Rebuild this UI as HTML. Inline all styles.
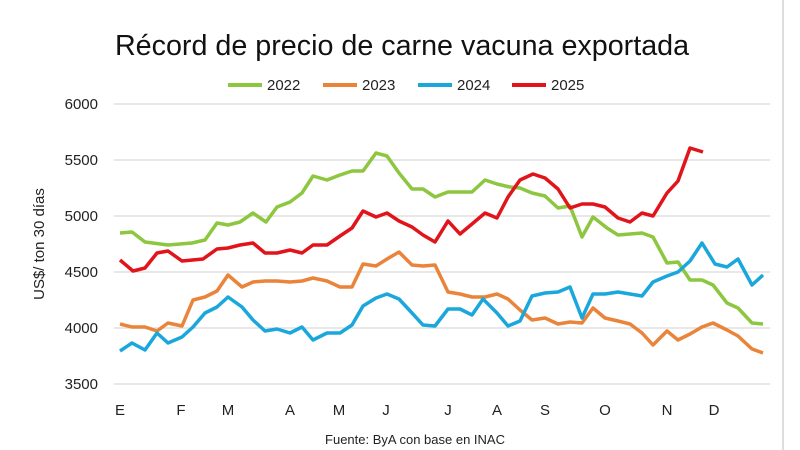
<!DOCTYPE html>
<html><head><meta charset="utf-8"><style>
body{margin:0;background:#fff;}
svg{display:block;font-family:"Liberation Sans",sans-serif;}
</style></head><body>
<svg width="800" height="450" viewBox="0 0 800 450">
<rect width="800" height="450" fill="#fff"/>
<line x1="783" y1="0" x2="783" y2="450" stroke="#bbb" stroke-width="1"/>
<text x="402" y="55" font-size="28.7" text-anchor="middle" fill="#111">Récord de precio de carne vacuna exportada</text>
<g font-size="15" fill="#222">
<line x1="228" y1="85" x2="262" y2="85" stroke="#8dc63f" stroke-width="4"/><text x="267" y="90">2022</text>
<line x1="323" y1="85" x2="357" y2="85" stroke="#e9843a" stroke-width="4"/><text x="362" y="90">2023</text>
<line x1="418" y1="85" x2="452" y2="85" stroke="#1aa7dc" stroke-width="4"/><text x="457" y="90">2024</text>
<line x1="512" y1="85" x2="546" y2="85" stroke="#e2141b" stroke-width="4"/><text x="551" y="90">2025</text>
</g>
<g stroke="#d9d9d9" stroke-width="1.2">
<line x1="114" y1="104" x2="770" y2="104"/><line x1="114" y1="160" x2="770" y2="160"/>
<line x1="114" y1="216" x2="770" y2="216"/><line x1="114" y1="272" x2="770" y2="272"/>
<line x1="114" y1="328" x2="770" y2="328"/><line x1="114" y1="384" x2="770" y2="384"/>
</g>
<g font-size="15" fill="#222" text-anchor="end">
<text x="98" y="109">6000</text><text x="98" y="165">5500</text><text x="98" y="221">5000</text>
<text x="98" y="277">4500</text><text x="98" y="333">4000</text><text x="98" y="389">3500</text>
</g>
<text transform="translate(44,244) rotate(-90)" font-size="15" fill="#222" text-anchor="middle">US$/ ton 30 días</text>
<g font-size="15" fill="#222" text-anchor="middle">
<text x="120" y="415">E</text><text x="181" y="415">F</text><text x="228" y="415">M</text>
<text x="290" y="415">A</text><text x="339" y="415">M</text><text x="386" y="415">J</text>
<text x="448" y="415">J</text><text x="497" y="415">A</text><text x="545" y="415">S</text>
<text x="605" y="415">O</text><text x="667" y="415">N</text><text x="714" y="415">D</text>
</g>
<text x="415" y="444" font-size="13" fill="#222" text-anchor="middle">Fuente: ByA con base en INAC</text>
<g fill="none" stroke-width="3.5" stroke-linejoin="round">
<polyline stroke="#8dc63f" points="120,233 132,232 145,242 168,245 192,243 205,240 217,223 228,225 240,222 253,213 266,222 277,207 290,202 302,193 313,176 327,180 340,175 352,171 363,171 376,153 387,156 399,173 412,189 423,189 435,197 448,192 472,192 485,180 497,184 510,187 520,188 532,193 545,196 558,208 570,206 582,237 593,217 607,228 618,235 642,233 653,237 667,263 678,262 690,280 702,280 713,285 727,303 738,308 752,323 763,324"/>
<polyline stroke="#e9843a" points="120,324 132,327 145,327 157,331 168,323 182,326 193,300 205,297 217,291 228,275 242,287 253,282 265,281 277,281 290,282 302,281 313,278 327,281 340,287 352,287 363,264 376,266 387,259 399,252 412,265 423,266 435,265 448,292 460,294 472,297 485,297 497,294 508,299 520,310 532,320 545,318 558,324 570,322 582,323 593,308 605,318 618,321 630,324 642,333 653,345 667,331 678,340 690,334 702,327 713,323 727,330 738,336 752,349 763,353"/>
<polyline stroke="#1aa7dc" points="120,351 132,343 145,350 157,333 168,343 182,337 193,327 205,313 217,307 228,297 242,307 253,320 265,331 277,329 290,333 302,327 313,340 327,333 340,333 352,325 363,306 376,298 387,294 399,299 412,313 423,325 435,326 448,309 460,309 472,315 483,299 497,313 508,326 520,321 532,296 545,293 558,292 570,287 582,318 593,294 605,294 618,292 630,294 642,296 653,282 667,276 678,272 690,261 702,243 715,264 727,267 738,259 752,285 763,275"/>
<polyline stroke="#e2141b" points="120,260 133,271 145,268 157,253 168,251 182,261 203,259 217,249 228,248 240,245 253,243 265,253 277,253 290,250 302,253 313,245 327,245 340,236 352,228 363,211 376,217 387,213 399,221 412,227 423,235 435,242 448,221 460,234 472,224 485,213 497,218 508,197 520,180 533,174 545,178 558,189 570,208 582,204 593,204 605,207 618,218 630,222 642,213 653,216 667,193 678,181 690,148 703,152"/>
</g>
</svg>
</body></html>
